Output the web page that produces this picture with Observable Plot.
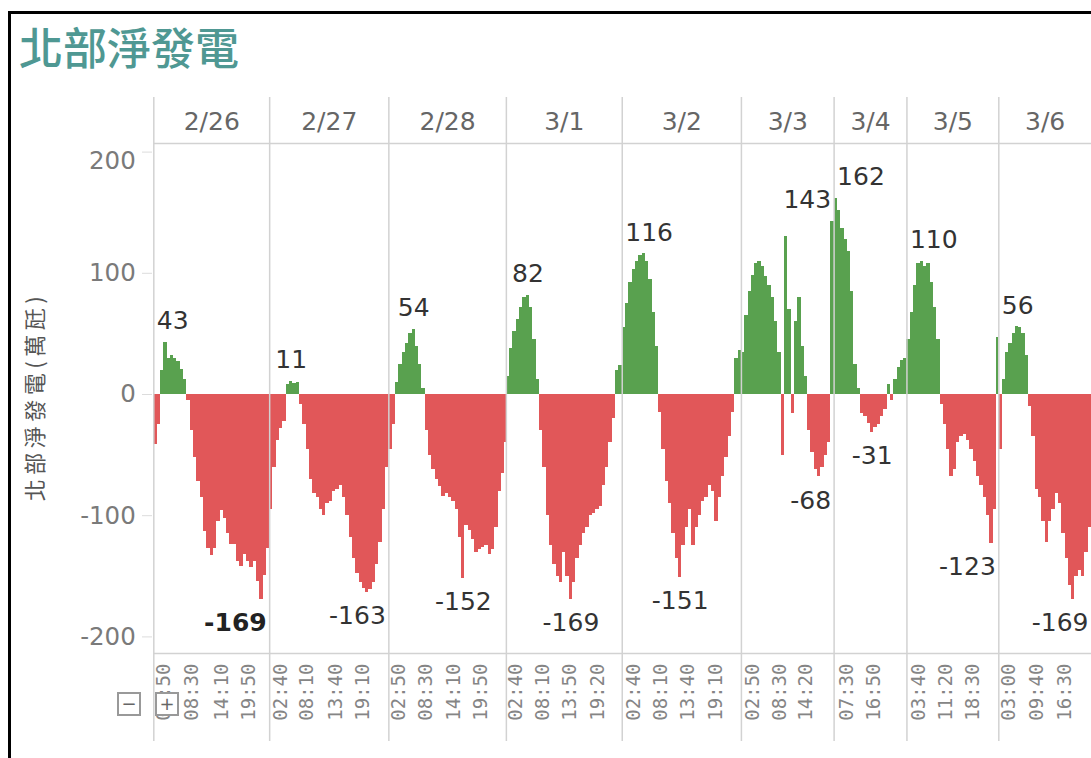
<!DOCTYPE html>
<html><head><meta charset="utf-8">
<script src="https://cdn.jsdelivr.net/npm/d3@7"></script>
<script src="https://cdn.jsdelivr.net/npm/@observablehq/plot@0.6"></script>
<style>
html,body{margin:0;padding:0;background:#fff;overflow:hidden}
#wrap{position:relative;width:1091px;height:758px;overflow:hidden}
#chart{position:absolute;left:0;top:0}
#chart svg{display:block}
#border{position:absolute;left:8px;top:11px;width:2000px;height:2000px;border-left:3px solid #000;border-top:3px solid #000;pointer-events:none}
#title{position:absolute;left:19px;top:24px;font-family:"Noto Sans CJK TC";font-weight:500;font-size:44px;line-height:1;color:#4f9893;white-space:nowrap}
.btn{position:absolute;top:692px;width:20px;height:20px;border:2px solid #999;background:#fff;color:#666;font:18px/20px "DejaVu Sans";text-align:center}
</style></head>
<body><div id="wrap"><div id="chart"></div><div id="border"></div><div id="title"></div>
<div class="btn" style="left:117px">−</div><div class="btn" style="left:155px">+</div></div>
<script>
// ---------- data ----------
const title = "北部淨發電";
const yTitle = "北部淨發電(萬瓩)";
const days = ["2/26","2/27","2/28","3/1","3/2","3/3","3/4","3/5","3/6"];
const daySlots = [140,144,142,140,144,112,88,111,112];   // number of 10-min records per day (visible)
const binSlots = 4;                                       // each value below covers 4 records
const net0226 = [-41,-25,20,43,30,32,30,27,21,12,-5,-30,-52,-72,-85,-113,-127,-133,-127,-105,-96,-102,-115,-124,-124,-138,-142,-132,-138,-143,-138,-154,-169,-149,-127];
const net0227 = [-95,-60,-38,-28,-22,8,11,9,10,-8,-25,-45,-70,-82,-85,-95,-100,-90,-88,-80,-78,-75,-85,-100,-118,-135,-148,-155,-160,-163,-161,-155,-140,-122,-95,-60];
const net0228 = [-45,-25,10,25,35,42,50,54,40,25,5,-30,-50,-62,-70,-76,-84,-82,-85,-88,-95,-118,-152,-108,-112,-120,-130,-128,-126,-125,-132,-128,-110,-80,-65,-40];
const net0301 = [15,38,52,62,72,80,82,72,45,12,-30,-60,-100,-125,-140,-150,-155,-130,-150,-169,-155,-135,-125,-115,-110,-100,-98,-95,-92,-75,-60,-40,-20,20,24];
const net0302 = [55,75,92,103,110,115,116,110,95,68,40,-15,-45,-72,-90,-115,-135,-151,-125,-110,-95,-125,-110,-100,-88,-85,-75,-80,-105,-85,-68,-52,-35,-15,30,36];
const net0303 = [35,65,85,98,108,110,106,97,90,80,60,35,-50,130,70,-16,60,80,40,15,-30,-48,-62,-68,-60,-50,-40,143];
const net0304 = [162,152,137,128,118,85,25,5,-16,-18,-24,-31,-27,-25,-18,-12,8,-5,12,22,28,30];
const net0305 = [45,68,90,108,110,106,108,92,72,45,-8,-25,-45,-68,-62,-40,-35,-33,-38,-45,-55,-68,-75,-85,-100,-123,-95,47];
const net0306 = [-45,12,35,42,50,56,55,50,32,-10,-35,-78,-85,-105,-122,-105,-95,-82,-90,-115,-135,-158,-169,-150,-145,-150,-130,-110];
const series = [net0226,net0227,net0228,net0301,net0302,net0303,net0304,net0305,net0306];
const timeTickLabels = [["02:50","08:30","14:10","19:50"],["02:40","08:10","13:40","19:10"],["02:50","08:30","14:10","19:50"],["02:40","08:10","13:50","19:20"],["02:40","08:10","13:40","19:10"],["02:50","08:30","14:20"],["07:30","16:50"],["03:40","11:20","18:30"],["03:00","09:40","16:30"]];
const timeTickSlots = [[12,46,82,115],[13,45,79,112],[12,44,78,111],[11,44,76,110],[14,46,79,113],[13,46,78],[15,47],[14,46,79],[12,46,79]];
const yTicks = [-200,-100,0,100,200];
const yDomain = [-213.7, 207.1];
const boldMinDays = ["2/26"];

// ---------- layout ----------
const W = 1091, H = 758, mL = 153.3, mR = 0, mT = 143, mB = 105;
const green = "#59a14f", red = "#e15759", gridC = "#d2d2d2";
document.getElementById("title").textContent = title;

const starts = []; let acc = 0;
daySlots.forEach(n => { starts.push(acc); acc += n; });
const total = acc;
const pxPerSlot = (W - mL - mR) / total;
const pxPerUnit = (H - mT - mB) / (yDomain[1] - yDomain[0]);
const yAtPx = p => yDomain[1] - (p - mT) / pxPerUnit;
const slotAtPx = p => (p - mL) / pxPerSlot;

const bins = [];
series.forEach((vals, d) => vals.forEach((v, i) => {
  const x1 = starts[d] + i * binSlots;
  const x2 = Math.min(x1 + binSlots, starts[d] + daySlots[d]);
  bins.push({day: days[d], d, x1, x2, v});
}));

const ctx = document.createElement("canvas").getContext("2d");
const labelFont = 25;
const labels = [];
days.forEach((day, d) => {
  const bs = bins.filter(b => b.d === d);
  const mx = bs.reduce((a, b) => b.v > a.v ? b : a);
  const mn = bs.reduce((a, b) => b.v < a.v ? b : a);
  for (const [b, kind] of [[mx, "max"], [mn, "min"]]) {
    const bold = kind === "min" && boldMinDays.includes(day);
    ctx.font = `${bold ? "bold " : ""}${labelFont}px 'DejaVu Sans'`;
    const w = ctx.measureText(String(b.v)).width;
    const half = (w / 2 + 3) / pxPerSlot;
    const lo = starts[d] + half, hi = starts[d] + daySlots[d] - half;
    const xc = Math.max(lo, Math.min(hi, (b.x1 + b.x2) / 2));
    labels.push({x: xc, y: b.v, text: String(b.v), kind, bold});
  }
});

const timeLabels = [];
days.forEach((day, d) => timeTickLabels[d].forEach((t, k) => timeLabels.push({x: starts[d] + timeTickSlots[d][k] + 0.5, t})));

const chart = Plot.plot({
  width: W, height: H,
  marginLeft: mL, marginRight: mR, marginTop: mT, marginBottom: mB,
  style: {fontFamily: "DejaVu Sans", background: "transparent", overflow: "visible"},
  x: {domain: [0, total], axis: null},
  y: {domain: yDomain, axis: null},
  color: {domain: ["pos", "neg"], range: [green, red]},
  marks: [
    Plot.rect(bins, {x1: "x1", x2: "x2", y1: 0, y2: "v", fill: d => d.v >= 0 ? "pos" : "neg", shapeRendering: "crispEdges"}),
    Plot.ruleY([yDomain[1], yDomain[0]], {stroke: gridC, strokeWidth: 1.5}),
    Plot.ruleX(starts, {x: d => d, y1: yAtPx(97), y2: yAtPx(741), stroke: gridC, strokeWidth: 1.5}),
    Plot.ruleY(yTicks, {y: d => d, x1: slotAtPx(142), x2: slotAtPx(152), stroke: "#dcdcdc", strokeWidth: 1}),
    Plot.text(yTicks, {y: t => Math.min(t, yDomain[1] - 18 / pxPerUnit), frameAnchor: "left", dx: -18, textAnchor: "end", text: t => String(t), fontSize: 24.5, fill: "#7a7a7a"}),
    Plot.text(days, {x: (d, i) => starts[i] + daySlots[i] / 2, frameAnchor: "top", dy: -22, lineAnchor: "middle", text: d => d, fontSize: 25, fill: "#666"}),
    Plot.text(timeLabels, {x: "x", text: "t", frameAnchor: "bottom", dy: 10, rotate: -90, textAnchor: "end", lineAnchor: "middle", fontFamily: "DejaVu Sans Mono", fontSize: 19, fill: "#858585"}),
    Plot.text(labels.filter(l => l.kind === "max"), {x: "x", y: "y", text: "text", lineAnchor: "bottom", dy: -13, fontSize: labelFont, fill: "#333"}),
    Plot.text(labels.filter(l => l.kind === "min" && !l.bold), {x: "x", y: "y", text: "text", lineAnchor: "top", dy: 14, fontSize: labelFont, fill: "#333"}),
    Plot.text(labels.filter(l => l.kind === "min" && l.bold), {x: "x", y: "y", text: "text", lineAnchor: "top", dy: 14, fontSize: labelFont, fill: "#222", fontWeight: "bold"}),
    Plot.text([yTitle], {frameAnchor: "left", dx: 35 - mL, dy: -2, rotate: -90, textAnchor: "middle", lineAnchor: "middle", fontFamily: "Noto Sans CJK TC", fontSize: 22, fill: "#555"})
  ]
});
d3.select(chart).selectAll("text").filter(function () { return this.textContent === yTitle; }).style("letter-spacing", "4.5px");
document.getElementById("chart").appendChild(chart);
</script></body></html>
